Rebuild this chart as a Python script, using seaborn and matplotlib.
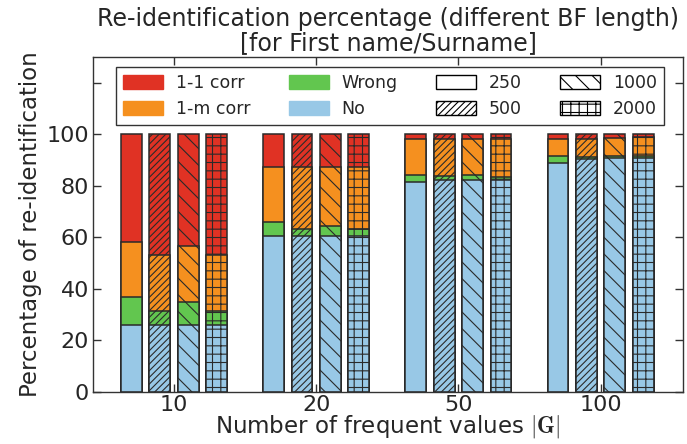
import numpy as np
import pandas as pd
import matplotlib
matplotlib.use('Agg')
import matplotlib.pyplot as plt
import matplotlib.patches as mpatches
import seaborn as sns

# number of frequent values |G| and Bloom filter lengths
groups = ['10', '20', '50', '100']
bf_lengths = ['250', '500', '1000', '2000']

# percentages, one row per |G|, one column per BF length
no_match = [[26.1, 26.1, 26.1, 26.1],
            [60.6, 60.6, 60.6, 60.6],
            [81.5, 82.2, 82.2, 82.2],
            [89.0, 90.3, 90.7, 91.0]]
wrong = [[10.6, 5.4, 8.9, 5.4],
         [5.2, 2.8, 3.8, 2.8],
         [2.9, 1.6, 2.2, 1.4],
         [2.4, 0.8, 0.9, 0.4]]
one_m = [[21.6, 21.6, 21.5, 21.6],
         [21.5, 23.9, 22.9, 23.9],
         [13.9, 14.5, 13.9, 14.7],
         [6.7, 7.2, 7.1, 7.7]]
one_one = [[41.7, 46.9, 43.5, 46.9],
           [12.7, 12.7, 12.7, 12.7],
           [1.7, 1.7, 1.7, 1.7],
           [1.9, 1.7, 1.3, 0.9]]

cat_labels = ['1-1 corr', '1-m corr', 'Wrong', 'No']
cat_colors = ['#E03224', '#F5901F', '#62C64F', '#98C8E6']
hatches = ['', '/////', '\\\\', '++']

rows = []
for i, g in enumerate(groups):
    for j, b in enumerate(bf_lengths):
        rows.append({'G': g, 'BF': b, 'No': no_match[i][j], 'Wrong': wrong[i][j],
                     '1-m': one_m[i][j], '1-1': one_one[i][j]})
df = pd.DataFrame(rows)
# cumulative tops for the stacked look (bottom to top: No, Wrong, 1-m, 1-1)
df['top_no'] = df['No']
df['top_wrong'] = df['top_no'] + df['Wrong']
df['top_1m'] = df['top_wrong'] + df['1-m']
df['top_11'] = df['top_1m'] + df['1-1']

sns.set_style('ticks', {'xtick.direction': 'in', 'ytick.direction': 'in'})
plt.rcParams['mathtext.fontset'] = 'cm'
plt.rcParams['hatch.linewidth'] = 0.8

fig = plt.figure(figsize=(6.87, 4.44), dpi=100)
ax = fig.add_axes([0.1354, 0.1171, 0.8588, 0.7545])

# draw from the tallest layer down so each segment sits on the one below
for col, color in zip(['top_11', 'top_1m', 'top_wrong', 'top_no'], cat_colors):
    n0 = len(ax.patches)
    sns.barplot(data=df, x='G', y=col, hue='BF', order=groups, hue_order=bf_lengths,
                palette=[color] * 4, width=0.8, gap=0.27, saturation=1,
                edgecolor='#2a2a2a', linewidth=1.1, errorbar=None, legend=False, ax=ax)
    for p in ax.patches[n0:]:
        xc = p.get_x() + p.get_width() / 2
        k = int(round((xc - round(xc) + 0.3) / 0.2))
        p.set_hatch(hatches[k])

ax.set_xlim(-0.57, 3.58)
ax.set_ylim(0, 130)
ax.set_yticks(range(0, 121, 20))
ax.set_yticklabels([str(v) for v in range(0, 101, 20)] + [''])
ax.tick_params(axis='both', labelsize=16, length=6, width=1, color='#333333',
               top=True, right=True, pad=3)
ax.tick_params(axis='x', pad=2)
for s in ax.spines.values():
    s.set_visible(True)
    s.set_color('#333333')
    s.set_linewidth(1)

ax.set_title('Re-identification percentage (different BF length)\n[for First name/Surname]',
             fontsize=17, linespacing=0.98, pad=5)
ax.set_ylabel('Percentage of re-identification', fontsize=16.5, labelpad=3)
ax.set_xlabel(r'Number of frequent values $|\mathbf{G}|$', fontsize=16.5, labelpad=-1)

handles = []
for lab, c in zip(cat_labels, cat_colors):
    handles.append(mpatches.Patch(facecolor=c, edgecolor=c, label=lab))
for lab, h in zip(bf_lengths, hatches):
    handles.append(mpatches.Patch(facecolor='white', edgecolor='black', hatch=h, label=lab))
leg = ax.legend(handles=handles, ncol=4, loc='upper left', bbox_to_anchor=(0.039, 0.97),
                fontsize=12.5, frameon=True, fancybox=False, edgecolor='black',
                handlelength=2.3, handleheight=0.9, columnspacing=2.2,
                handletextpad=0.75, borderaxespad=0, borderpad=0.4, labelspacing=0.45)
leg.get_frame().set_linewidth(1)

fig.savefig('out.png', dpi=100)
